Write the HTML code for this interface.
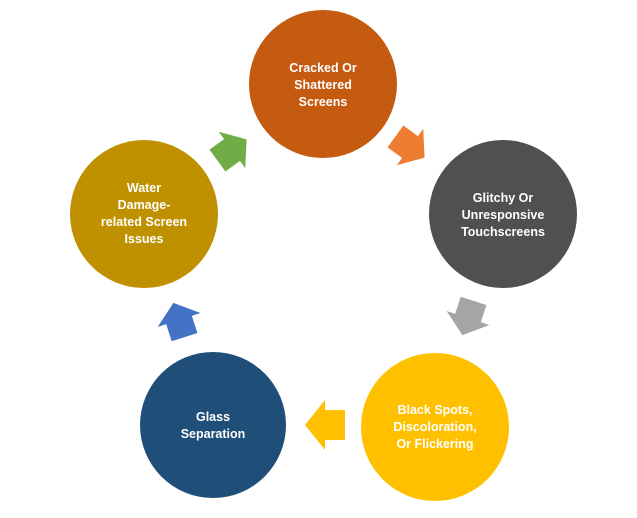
<!DOCTYPE html>
<html><head><meta charset="utf-8"><style>
body{margin:0;background:#fff;}
svg text{font-family:"Liberation Sans",sans-serif;font-weight:bold;font-size:12.5px;fill:#fff;text-anchor:middle;}
</style></head><body>
<svg width="637" height="513" viewBox="0 0 637 513" xmlns="http://www.w3.org/2000/svg">
<defs><polygon id="a" points="-20,-15 0,-15 0,-25 20,0 0,25 0,15 -20,15"/></defs>
<circle cx="323" cy="84" r="74" fill="#C55A11"/>
<circle cx="503" cy="214" r="74" fill="#505050"/>
<circle cx="435" cy="427" r="74" fill="#FFC000"/>
<circle cx="213" cy="425" r="73" fill="#1F4E79"/>
<circle cx="144" cy="214" r="74" fill="#BF9000"/>
<use href="#a" fill="#ED7D31" transform="translate(410,147) rotate(36) scale(0.9)"/>
<use href="#a" fill="#A5A5A5" transform="translate(468,318) rotate(108) scale(0.9)"/>
<use href="#a" fill="#FFC000" transform="translate(325,425) rotate(180)"/>
<use href="#a" fill="#4472C4" transform="translate(179,320) rotate(252) scale(0.9)"/>
<use href="#a" fill="#70AD47" transform="translate(232,150) rotate(324) scale(0.9)"/>
<text x="323" y="72">Cracked Or</text><text x="323" y="89">Shattered</text><text x="323" y="106">Screens</text>
<text x="503" y="202">Glitchy Or</text><text x="503" y="219">Unresponsive</text><text x="503" y="236">Touchscreens</text>
<text x="435" y="414">Black Spots,</text><text x="435" y="431">Discoloration,</text><text x="435" y="448">Or Flickering</text>
<text x="213" y="421">Glass</text><text x="213" y="438">Separation</text>
<text x="144" y="192">Water</text><text x="144" y="209">Damage-</text><text x="144" y="226">related Screen</text><text x="144" y="243">Issues</text>
</svg>
</body></html>
